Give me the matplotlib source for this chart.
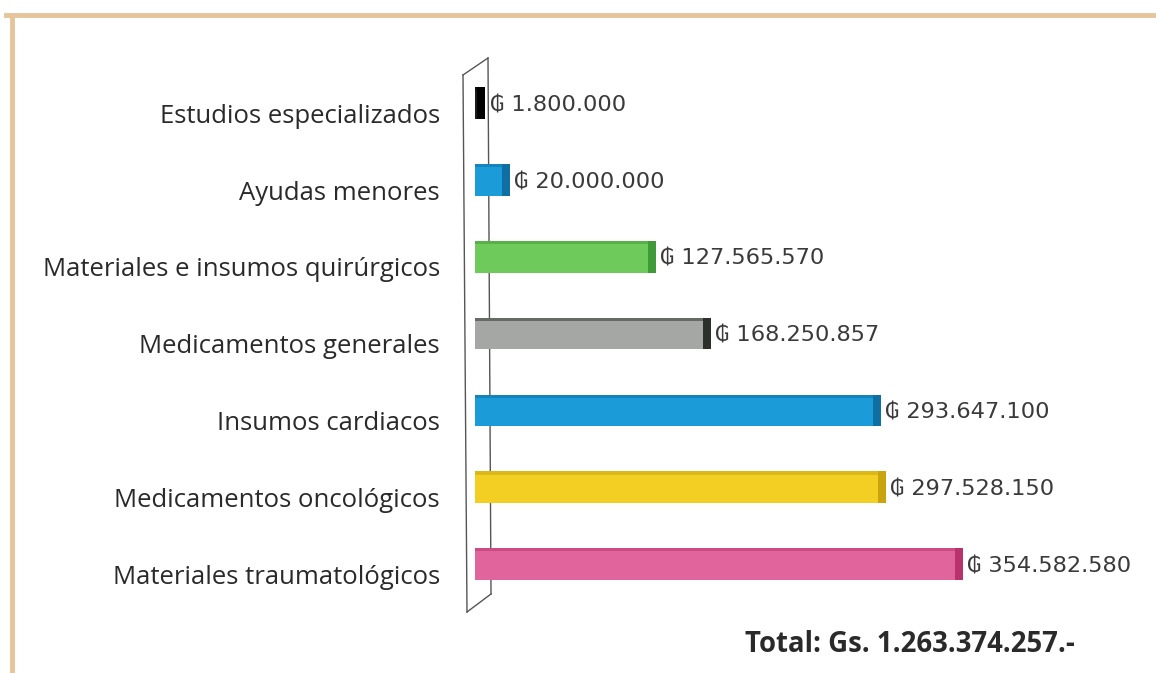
import matplotlib
matplotlib.use("Agg")
import matplotlib.pyplot as plt
from matplotlib.lines import Line2D

categories = ["Materiales traumatológicos", "Medicamentos oncológicos", "Insumos cardiacos",
              "Medicamentos generales", "Materiales e insumos quirúrgicos", "Ayudas menores",
              "Estudios especializados"]
values = [354582580, 297528150, 293647100, 168250857, 127565570, 20000000, 1800000]
value_labels = ["₲ 354.582.580", "₲ 297.528.150", "₲ 293.647.100", "₲ 168.250.857",
                "₲ 127.565.570", "₲ 20.000.000", "₲ 1.800.000"]
colors = ["#e2649c", "#f2cf22", "#1b9bd8", "#a4a7a3", "#6fca5c", "#1b9bd8", "#1c1c1c"]
side_colors = ["#b8336d", "#c9a40e", "#0f6fa3", "#2b302b", "#3f9a37", "#0f6fa3", "#000000"]
total_text = "Total: Gs. 1.263.374.257.-"

W, H = 1156, 673
fig = plt.figure(figsize=(W / 100, H / 100), dpi=100)
fig.patch.set_facecolor("white")

# pixel geometry
px_per_unit = (955 - 475) / 354582580.0
ax_left_px, ax_right_px = 455, 1150
ax_top_px, ax_bot_px = 45, 625
y0_px, dy_px = 564, 76.8

ax = fig.add_axes([ax_left_px / W, 1 - ax_bot_px / H,
                   (ax_right_px - ax_left_px) / W, (ax_bot_px - ax_top_px) / H])
ax.set_xlim((ax_left_px - 475) / px_per_unit, (ax_right_px - 475) / px_per_unit)
ax.set_ylim((y0_px - ax_bot_px) / dy_px, (y0_px - ax_top_px) / dy_px)
ax.axis("off")

def px2x(px):
    return (px - 475) / px_per_unit

def px2y(py):
    return (y0_px - py) / dy_px

# back wall (3D)
wall = [((463, 75), (488, 58)), ((463, 75), (467, 612)), ((488, 58), (491, 594)),
        ((467, 612), (491, 594))]
for (a, b) in wall:
    ax.plot([px2x(a[0]), px2x(b[0])], [px2y(a[1]), px2y(b[1])], color="#555555", lw=1.0, zorder=1)

ypos = list(range(len(categories)))
bh = 0.41
side_w = 8 / px_per_unit
ax.barh(ypos, values, height=bh, color=colors, zorder=2)
ax.barh([y + bh / 2 - 0.02 for y in ypos], values, height=0.04, color=side_colors, alpha=0.5, zorder=3)
ax.barh(ypos, [side_w] * len(values), left=values, height=bh, color=side_colors, zorder=3)

for y, v, lab in zip(ypos, values, value_labels):
    ax.annotate(lab, (v + side_w, y - 2 / dy_px), xytext=(3, 0), textcoords="offset points",
                ha="left", va="center", fontsize=16.2, color="#3a3a3a",
                family=["DejaVu Sans"], zorder=4)

for y, lab in zip(ypos, categories):
    ax.text(px2x(440), y - 13 / dy_px, lab, ha="right", va="center", fontsize=18.5,
            color="#2a2a2a", family=["Open Sans", "DejaVu Sans"])

fig.text(745 / W, 1 - 645 / H, total_text, ha="left", va="center", fontsize=19.8,
         fontweight="bold", color="#2a2a2a", family=["Open Sans", "DejaVu Sans"])

# tan border
border_col = "#e6c49c"
fig.add_artist(Line2D([6 / W, 1], [1 - 15 / H, 1 - 15 / H], transform=fig.transFigure,
                      color=border_col, lw=3.5))
fig.add_artist(Line2D([12 / W, 12 / W], [1 - 15 / H, 0], transform=fig.transFigure,
                      color=border_col, lw=3.5))

fig.savefig("out.png", dpi=100, facecolor="white")
